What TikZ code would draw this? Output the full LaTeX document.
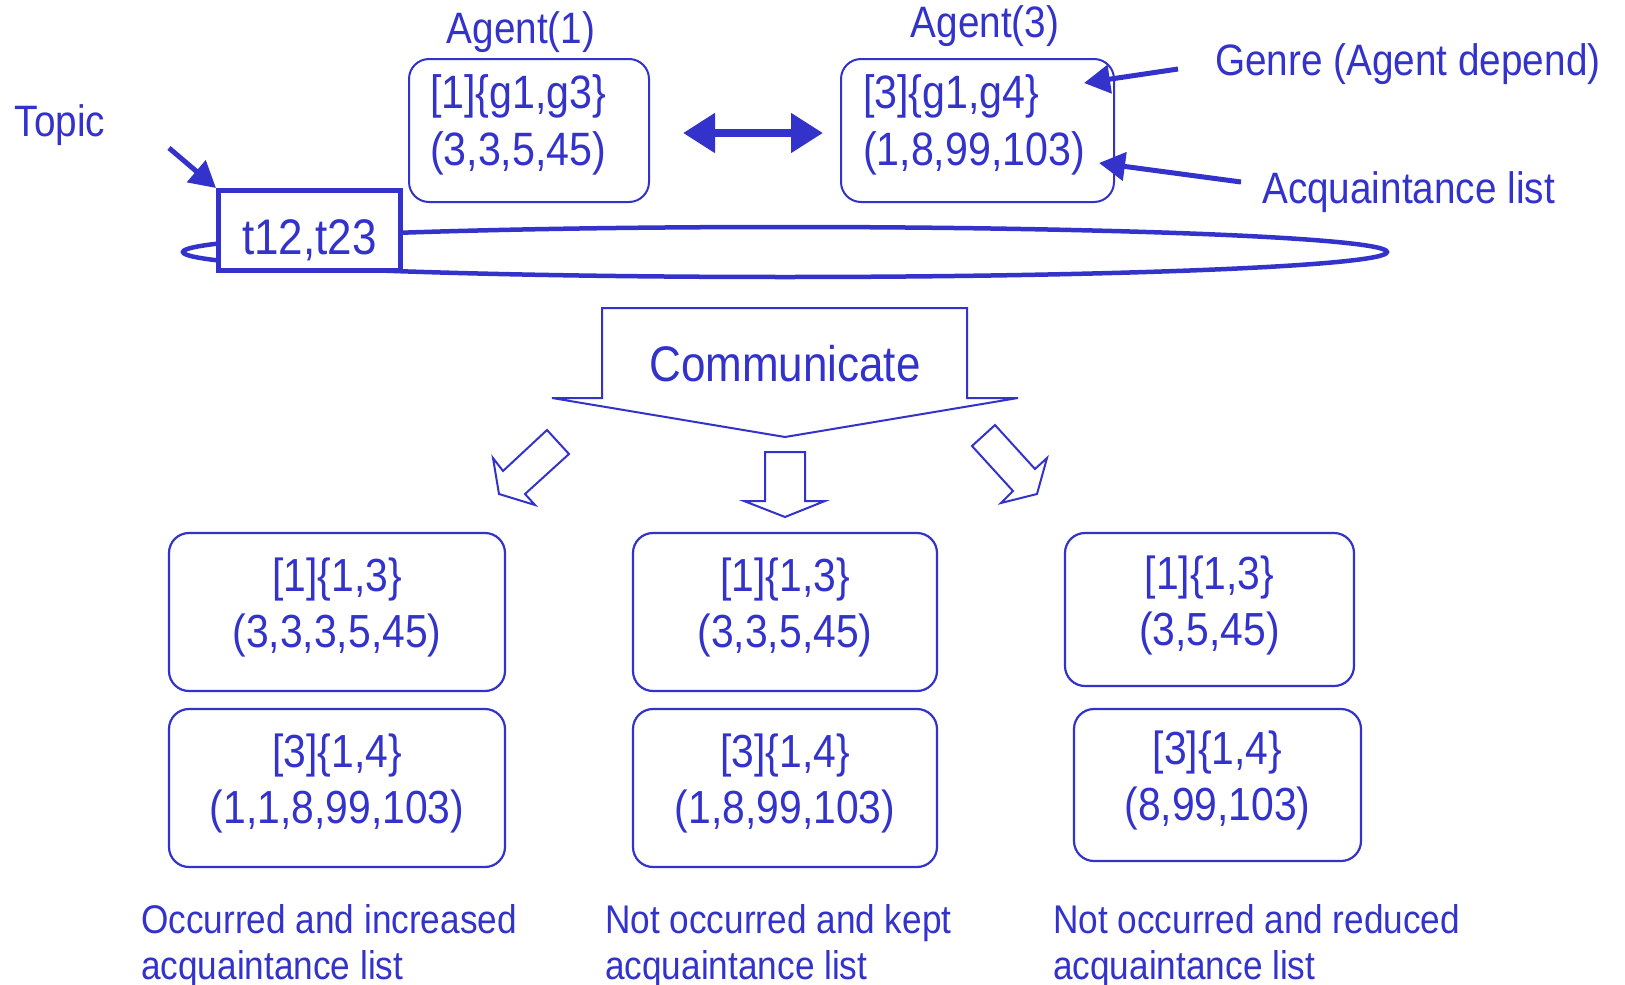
\documentclass[tikz,border=0pt]{standalone}
\usepackage{fontspec}
\setmainfont{Liberation Sans}[FakeStretch=0.88]
\usetikzlibrary{arrows.meta}
\definecolor{ink}{RGB}{51,51,204}
\newcommand{\lowpad}[1]{\rule[-#1]{0pt}{0pt}}
\begin{document}
\begin{tikzpicture}[x=1pt,y=-1pt,
  lbl/.style={text=ink, font=\fontsize{44}{50}\selectfont, inner sep=0pt},
  agbox/.style={draw=ink, line width=2pt, rounded corners=20pt, fill=white, text=ink,
    align=left, inner xsep=21pt, inner ysep=0pt, font=\fontsize{46.8}{57}\selectfont},
  bbox/.style={draw=ink, line width=2.2pt, rounded corners=20pt, fill=white, text=ink,
    align=center, inner sep=0pt, font=\fontsize{46.4}{56}\selectfont},
  ptr/.style={draw=ink, line width=5pt, -{Triangle[length=26pt,width=28pt]}},
  shp/.style={draw=ink, line width=2pt, fill=white, line join=miter},
  captxt/.style={text=ink, font=\fontsize{40}{46}\selectfont, align=left, anchor=north west, inner sep=0pt}]
\useasboundingbox (0,0) rectangle (1625,985);

% labels
\node[lbl] (topic) at (60,125) {Topic};
\node[lbl] (ag1) at (521,32) {Agent(1)};
\node[lbl] (ag3) at (985,26) {Agent(3)};
\node[lbl, anchor=west] (genre) at (1215,64) {Genre (Agent depend)};
\node[lbl, anchor=west] (acq) at (1262,192) {Acquaintance list};

% agent boxes
\node[agbox, text width=198pt, minimum height=143pt] (a1) at (529,130.5) {[1]\{g1,g3\}\\(3,3,5,45)\lowpad{20pt}};
\node[agbox, text width=229pt, inner xsep=22pt, minimum height=143pt] (a3) at (977.5,130.5) {[3]\{g1,g4\}\\(1,8,99,103)\lowpad{20pt}};

% topic ellipse and box
\draw[ink, line width=4.5pt] (785,252) ellipse [x radius=602pt, y radius=25pt];
\node[draw=ink, line width=5pt, fill=white, minimum width=182pt, minimum height=80pt,
  inner sep=0pt, text height=47pt, text depth=0pt, text=ink, font=\fontsize{50}{56}\selectfont] (tbox) at (309.5,230.5) {t12,t23};

% arrows
\coordinate (tstart) at (169,148);
\draw[ptr] (tstart) -- (tbox.north west);
\draw[draw=ink, line width=8pt, {Triangle[length=32pt,width=38pt]}-{Triangle[length=32pt,width=38pt]}]
  ([xshift=33pt,yshift=-2.5pt]a1.east) -- ([xshift=-17pt,yshift=-2.5pt]a3.west);
\coordinate (gtip) at (1084,83);
\draw[ptr] ([xshift=-37pt,yshift=-5pt]genre.west) -- (gtip);
\coordinate (atip) at (1099,163);
\draw[ptr] ([xshift=-21pt,yshift=10pt]acq.west) -- (atip);

% communicate arrow
\draw[shp] (602,308) -- (967,308) -- (967,398) -- (1018,398) -- (785,437) -- (552,398) -- (602,398) -- cycle;
\node[text=ink, font=\fontsize{50}{56}\selectfont] (comm) at (785,364) {Communicate};

% small arrows
\draw[shp] (547,430) -- (569,454) -- (525,494) -- (535,505) -- (499,494) -- (493,458) -- (503,471) -- cycle;
\draw[shp] (765,452) -- (805,452) -- (805,501) -- (825,501) -- (785,517) -- (744,501) -- (765,501) -- cycle;
\draw[shp] (995,425) -- (972,446) -- (1013,491) -- (1001,503) -- (1037,494) -- (1047,458) -- (1035,469) -- cycle;

% result boxes
\node[bbox, minimum width=336pt, minimum height=158pt] (l1) at (337,612) {[1]\{1,3\}\\(3,3,3,5,45)\lowpad{18pt}};
\node[bbox, minimum width=336pt, minimum height=158pt] (l2) at (337,788) {[3]\{1,4\}\\(1,1,8,99,103)\lowpad{18pt}};
\node[bbox, minimum width=304pt, minimum height=158pt] (m1) at (785,612) {[1]\{1,3\}\\(3,3,5,45)\lowpad{18pt}};
\node[bbox, minimum width=304pt, minimum height=158pt] (m2) at (785,788) {[3]\{1,4\}\\(1,8,99,103)\lowpad{18pt}};
\node[bbox, minimum width=289pt, minimum height=153pt] (r1) at (1209.5,609.5) {[1]\{1,3\}\\(3,5,45)\lowpad{18pt}};
\node[bbox, minimum width=287pt, minimum height=152pt] (r2) at (1217.5,785) {[3]\{1,4\}\\(8,99,103)\lowpad{18pt}};

% captions
\node[captxt] (c1) at (141,904) {Occurred and increased\\acquaintance list};
\node[captxt] (c2) at (605,904) {Not occurred and kept\\acquaintance list};
\node[captxt] (c3) at (1053,904) {Not occurred and reduced\\acquaintance list};
\end{tikzpicture}
\end{document}
